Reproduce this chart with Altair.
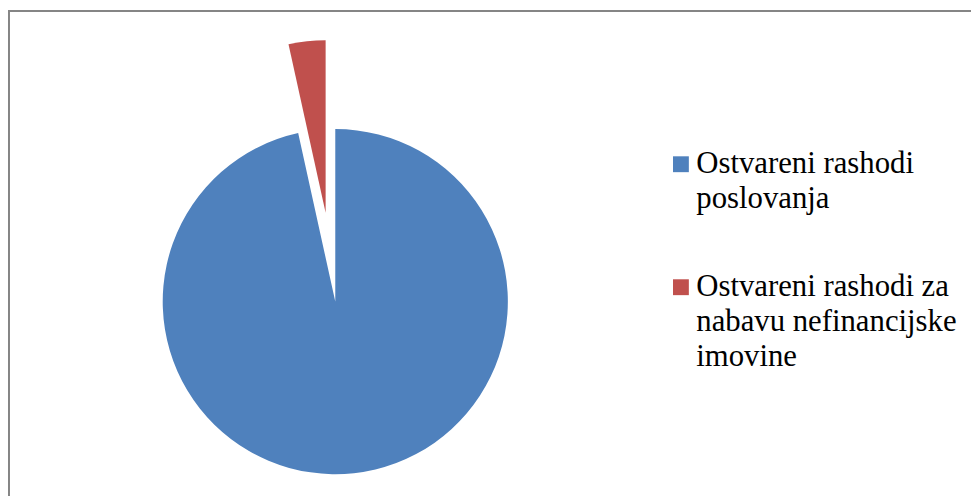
import altair as alt
import pandas as pd

# ---- data ----
categories = [
    "Ostvareni rashodi poslovanja",
    "Ostvareni rashodi za nabavu nefinancijske imovine",
]
values = [96.55, 3.45]
label_lines = [
    ["Ostvareni rashodi", "poslovanja"],
    ["Ostvareni rashodi za", "nabavu nefinancijske", "imovine"],
]

# ---- style / layout ----
colors = ["#4F81BD", "#C0504D"]
EXPLODED = categories[1]
EXPLODE_PX = 90
CX, CY, R = 330, 294, 174
W, H = 971, 490
FRAME = "#858585"
FONT = "Liberation Serif, Times New Roman, serif"

df = pd.DataFrame({"category": categories, "value": values,
                   "order": list(range(len(categories)))})


def arr(lines):
    return "[" + ",".join("'" + s + "'" for s in lines) + "]"


label_expr = ""
for cat, lines in zip(categories[:-1], label_lines[:-1]):
    label_expr += f"datum.label == '{cat}' ? {arr(lines)} : "
label_expr += arr(label_lines[-1])

pie = (
    alt.Chart(df)
    .transform_joinaggregate(total="sum(value)")
    .transform_window(cum="sum(value)", sort=[alt.SortField("order")], frame=[None, 0])
    .transform_calculate(
        t1="2*PI*(datum.cum - datum.value)/datum.total",
        t2="2*PI*datum.cum/datum.total",
    )
    .transform_calculate(
        mid="(datum.t1 + datum.t2)/2",
        ex=f"datum.category == '{EXPLODED}' ? {EXPLODE_PX} : 0",
    )
    .transform_calculate(
        px=f"{CX} + datum.ex*sin(datum.mid)",
        py=f"{CY} - datum.ex*cos(datum.mid)",
    )
    .mark_arc(outerRadius=R, strokeWidth=0)
    .encode(
        theta=alt.Theta("t1:Q", scale=None),
        theta2="t2:Q",
        x=alt.X("px:Q", scale=None, axis=None),
        y=alt.Y("py:Q", scale=None, axis=None),
        color=alt.Color(
            "category:N",
            scale=alt.Scale(domain=categories, range=colors),
            legend=alt.Legend(
                title=None,
                orient="none",
                legendX=663,
                legendY=140,
                padding=0,
                symbolType="square",
                symbolSize=256,
                symbolStrokeWidth=0,
                labelFont=FONT,
                labelFontSize=31,
                labelColor="#000000",
                labelBaseline="middle",
                labelLimit=400,
                labelOffset=0,
                rowPadding=57,
                labelExpr=label_expr,
            ),
        ),
    )
)

frame_df = pd.DataFrame({"k": [0]})
frame_top = alt.Chart(frame_df).mark_rule(color=FRAME, strokeWidth=2).encode(
    x=alt.value(0), x2=alt.value(W), y=alt.value(1)
)
frame_left = alt.Chart(frame_df).mark_rule(color=FRAME, strokeWidth=2).encode(
    x=alt.value(1), y=alt.value(0), y2=alt.value(H)
)

chart = (
    alt.layer(frame_top, frame_left, pie)
    .properties(width=W, height=H, padding=0, autosize="none", background="white")
    .configure(style={"guide-label": {"lineHeight": 35, "font": FONT}})
    .configure_view(stroke=None)
)

chart.save("out.html", embed_options={"renderer": "svg", "actions": False})
